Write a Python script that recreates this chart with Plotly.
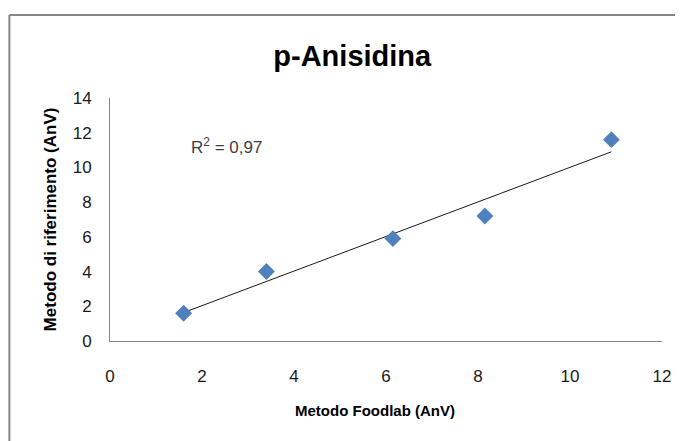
import numpy as np
import plotly.graph_objects as go

# Data
foodlab = [1.6, 3.4, 6.15, 8.15, 10.9]     # Metodo Foodlab (AnV)
riferimento = [1.6, 4.0, 5.9, 7.2, 11.6]   # Metodo di riferimento (AnV)
x_ticks = [0, 2, 4, 6, 8, 10, 12]
y_ticks = [0, 2, 4, 6, 8, 10, 12, 14]
title_text = "p-Anisidina"
x_title = "Metodo Foodlab (AnV)"
y_title = "Metodo di riferimento (AnV)"

# Linear trendline (least squares) and R²
xa = np.array(foodlab)
ya = np.array(riferimento)
slope, intercept = np.polyfit(xa, ya, 1)
pred = slope * xa + intercept
r2 = 1 - np.sum((ya - pred) ** 2) / np.sum((ya - ya.mean()) ** 2)
tx = [xa.min(), xa.max()]
ty = [slope * v + intercept for v in tx]

FONT = "Liberation Sans"

fig = go.Figure()
fig.add_trace(go.Scatter(
    x=tx, y=ty, mode="lines",
    line=dict(color="#1a1a1a", width=1),
    hoverinfo="skip", showlegend=False,
))
fig.add_trace(go.Scatter(
    x=foodlab, y=riferimento, mode="markers",
    marker=dict(symbol="diamond", size=13, color="#4F81BD"),
    showlegend=False,
))

# page has an 8px body margin, so the figure is sized/offset to compensate
fig.update_layout(
    width=675, height=433,
    margin=dict(l=102, r=19, t=90, b=100),
    paper_bgcolor="white", plot_bgcolor="white",
    font=dict(family=FONT, color="#000000"),
    title=dict(text="<b>%s</b>" % title_text, x=0.51, xanchor="center",
               y=0.889, yanchor="middle",
               font=dict(family=FONT, size=29, color="#000000")),
    xaxis=dict(
        range=[0, 12], tickvals=x_ticks, showgrid=False, zeroline=False,
        showline=True, linecolor="#868686", linewidth=1, ticks="",
        ticklabelstandoff=20, tickfont=dict(size=17, color="#1a1a1a"),
    ),
    yaxis=dict(
        range=[0, 14], tickvals=y_ticks, showgrid=False, zeroline=False,
        showline=True, linecolor="#868686", linewidth=1, ticks="",
        ticklabelstandoff=14, tickfont=dict(size=17, color="#1a1a1a"),
        title=dict(text="<b>%s</b>" % y_title, standoff=11,
                   font=dict(size=17, color="#000000")),
    ),
    annotations=[
        dict(
            xref="paper", yref="paper", x=0.144, y=0.802,
            xanchor="left", yanchor="middle", showarrow=False,
            text="R<sup>2</sup> = %s" % ("%.2f" % r2).replace(".", ","),
            font=dict(family=FONT, size=17, color="#404040"),
        ),
        dict(
            xref="paper", yref="paper", x=0.480, y=-0.288,
            xanchor="center", yanchor="middle", showarrow=False,
            text="<b>%s</b>" % x_title,
            font=dict(family=FONT, size=15, color="#000000"),
        ),
    ],
    shapes=[
        dict(type="line", xref="paper", yref="paper",
             x0=-0.1823, x1=1.1, y0=1.3416, y1=1.3416,
             line=dict(color="#868686", width=2)),
        dict(type="line", xref="paper", yref="paper",
             x0=-0.1823, x1=-0.1823, y0=1.3416, y1=-0.45,
             line=dict(color="#868686", width=2)),
    ],
)

fig.write_html("out.html")
